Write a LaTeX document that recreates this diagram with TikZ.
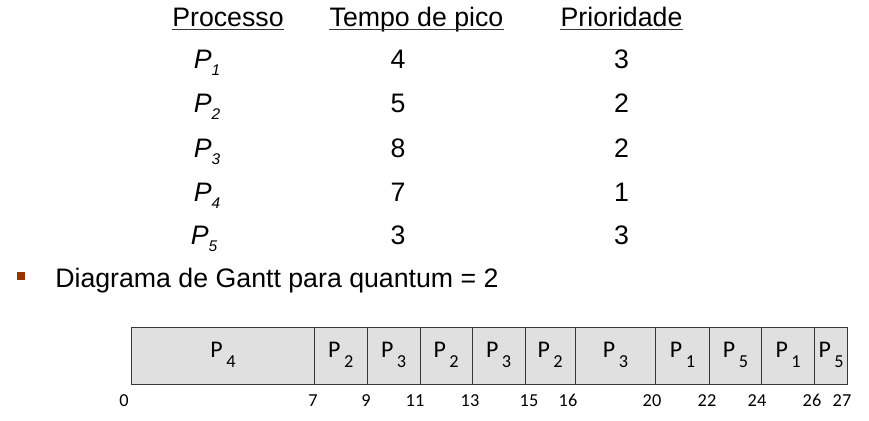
\documentclass[tikz,border=0pt]{standalone}
\usepackage{fontspec}
\setmainfont{Liberation Sans}
\newfontfamily\ganttfont{Carlito}
\definecolor{bulletred}{RGB}{153,51,0}
\definecolor{cellgray}{RGB}{224,224,224}
\definecolor{linegray}{RGB}{55,55,55}
\newcommand{\tproc}[1]{\textit{P\raisebox{-5pt}{\fontsize{11}{11}\selectfont #1}}}
\newcommand{\gslot}[1]{P\hspace{2.5pt}\raisebox{-7.5pt}{\fontsize{13}{13}\selectfont #1}}
\begin{document}
\begin{tikzpicture}[x=0.025cm,y=-0.025cm,
    txt/.style={anchor=base,inner sep=0pt,font=\fontsize{19}{19}\selectfont},
    uline/.style={draw=linegray,line width=1pt},
    cell/.style={draw=linegray,fill=cellgray,semithick,anchor=north west,outer sep=0pt,
      inner xsep=0pt,inner ysep=0pt,text height=0.75cm,text depth=0.6875cm,
      font=\ganttfont\fontsize{17}{17}\selectfont},
    tick/.style={anchor=base,inner sep=0pt,font=\ganttfont\fontsize{13}{13}\selectfont}]
  \useasboundingbox (0,0) rectangle (869,421);
  % table header
  \node[txt] (hproc) at (228,26) {Processo};
  \node[txt] (hburst) at (416.5,26) {Tempo de pico};
  \node[txt] (hprio) at (621.5,26) {Prioridade};
  \draw[uline] ([yshift=-2.5pt]hproc.base west) -- ([yshift=-2.5pt]hproc.base east);
  \draw[uline] ([yshift=-2.5pt]hburst.base west) -- ([yshift=-2.5pt]hburst.base east);
  \draw[uline] ([yshift=-2.5pt]hprio.base west) -- ([yshift=-2.5pt]hprio.base east);
  % table rows
  \node[txt] (p1) at (207,68) {\tproc{1}};
  \node[txt] (b1) at (398,68) {4};
  \node[txt] (r1) at (621.5,68) {3};
  \node[txt] (p2) at (207,112.5) {\tproc{2}};
  \node[txt] (b2) at (398,112.5) {5};
  \node[txt] (r2) at (621.5,112.5) {2};
  \node[txt] (p3) at (207,157) {\tproc{3}};
  \node[txt] (b3) at (398,157) {8};
  \node[txt] (r3) at (621.5,157) {2};
  \node[txt] (p4) at (207,201) {\tproc{4}};
  \node[txt] (b4) at (398,201) {7};
  \node[txt] (r4) at (621.5,201) {1};
  \node[txt] (p5) at (204,244.5) {\tproc{5}};
  \node[txt] (b5) at (398,244.5) {3};
  \node[txt] (r5) at (621.5,244.5) {3};
  % bullet line
  \node[fill=bulletred,inner sep=0pt,minimum size=0.2cm] (bul) at (21,276) {};
  \node[txt,anchor=base west] (title) at (55,287) {Diagrama de Gantt para quantum = 2};
  % gantt chart
  \node[cell,minimum width=4.565cm] (s1) at (131.7,327) {\gslot{4}};
  \node[cell,minimum width=1.3175cm] (s2) at (s1.north east) {\gslot{2}};
  \node[cell,minimum width=1.325cm] (s3) at (s2.north east) {\gslot{3}};
  \node[cell,minimum width=1.3cm] (s4) at (s3.north east) {\gslot{2}};
  \node[cell,minimum width=1.325cm] (s5) at (s4.north east) {\gslot{3}};
  \node[cell,minimum width=1.25cm] (s6) at (s5.north east) {\gslot{2}};
  \node[cell,minimum width=2.0175cm] (s7) at (s6.north east) {\gslot{3}};
  \node[cell,minimum width=1.3325cm] (s8) at (s7.north east) {\gslot{1}};
  \node[cell,minimum width=1.3175cm] (s9) at (s8.north east) {\gslot{5}};
  \node[cell,minimum width=1.315cm] (s10) at (s9.north east) {\gslot{1}};
  \node[cell,minimum width=0.835cm] (s11) at (s10.north east) {\gslot{5}};
  % time marks
  \node[tick] (t0) at (124,406) {0};
  \node[tick] (t7) at (313,406) {7};
  \node[tick] (t9) at (366,406) {9};
  \node[tick] (t11) at (415,406) {11};
  \node[tick] (t13) at (470,406) {13};
  \node[tick] (t15) at (529,406) {15};
  \node[tick] (t16) at (568,406) {16};
  \node[tick] (t20) at (652,406) {20};
  \node[tick] (t22) at (707,406) {22};
  \node[tick] (t24) at (757,406) {24};
  \node[tick] (t26) at (812,406) {26};
  \node[tick] (t27) at (842,406) {27};
\end{tikzpicture}
\end{document}
